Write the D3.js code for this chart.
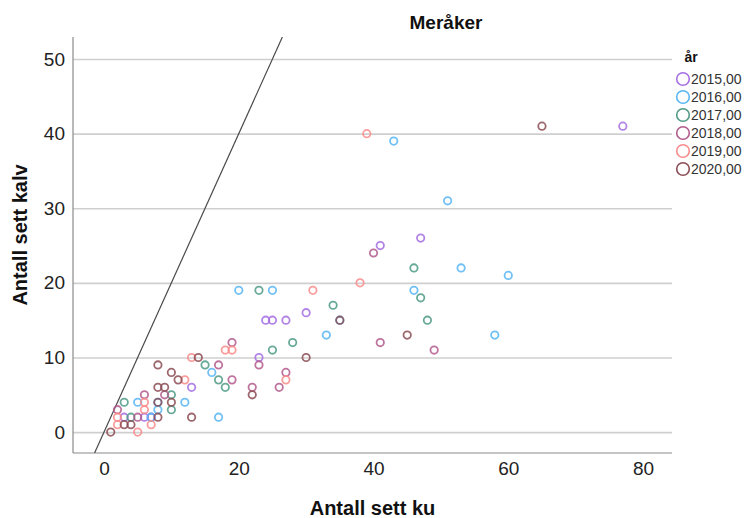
<!DOCTYPE html>
<html>
<head>
<meta charset="utf-8">
<script src="https://cdn.jsdelivr.net/npm/d3@7"></script>
<style>
  html, body { margin: 0; padding: 0; background: #fff; }
  svg { display: block; font-family: "Liberation Sans", Arial, sans-serif; }
</style>
</head>
<body>
<svg id="chart" width="744" height="518"></svg>
<script>
// Observations per year: [cows seen, calves seen]
const years = ["2015,00", "2016,00", "2017,00", "2018,00", "2019,00", "2020,00"];
const colors = ["#a46fe2", "#58b5f3", "#4f9a86", "#b25b8c", "#f98b8b", "#8c4c55"];

const y2015 = [[77,41],[47,26],[41,25],[30,16],[24,15],[25,15],[27,15],[23,10],[13,6],[3,2],[6,2],[7,2]];
const y2016 = [[43,39],[51,31],[53,22],[60,21],[46,19],[20,19],[25,19],[35,15],[33,13],[58,13],[16,8],[12,4],[5,4],[8,4],[8,3],[17,2],[7,2]];
const y2017 = [[46,22],[47,18],[34,17],[23,19],[48,15],[28,12],[25,11],[15,9],[17,7],[18,6],[10,5],[10,3],[3,4],[4,2]];
const y2018 = [[40,24],[19,12],[17,9],[23,9],[19,7],[22,6],[26,6],[27,8],[49,11],[41,12],[6,5],[9,5],[2,3],[5,2]];
const y2019 = [[39,40],[38,20],[31,19],[18,11],[19,11],[13,10],[12,7],[27,7],[6,4],[6,3],[2,2],[2,1],[7,1],[5,0]];
const y2020 = [[65,41],[30,10],[14,10],[22,5],[45,13],[8,9],[10,8],[11,7],[8,6],[9,6],[10,4],[8,2],[13,2],[3,1],[4,1],[1,0],[8,4],[35,15]];

const series = [y2015, y2016, y2017, y2018, y2019, y2020];

const xTicks = [0, 20, 40, 60, 80];
const yTicks = [0, 10, 20, 30, 40, 50];

const title = "Meråker";
const xTitle = "Antall sett ku";
const yTitle = "Antall sett kalv";
const legendTitle = "år";

// Reference line: calves = slope * cows
const refSlope = 2;

const svg = d3.select("#chart");
const plot = { left: 73, right: 672, top: 37, bottom: 453 };

const x = d3.scaleLinear().domain([-4.6, 84.3]).range([plot.left, plot.right]);
const y = d3.scaleLinear().domain([-2.8, 52.95]).range([plot.bottom, plot.top]);

// Horizontal grid lines
svg.append("g")
  .attr("transform", `translate(${plot.left},0)`)
  .call(d3.axisLeft(y).tickValues(yTicks).tickSize(-(plot.right - plot.left)).tickFormat(""))
  .call(g => g.select(".domain").remove())
  .call(g => g.selectAll(".tick line").attr("stroke", "#cfcfcf").attr("stroke-width", 1.6));

// Y axis
svg.append("g")
  .attr("transform", `translate(${plot.left},0)`)
  .call(d3.axisLeft(y).tickValues(yTicks).tickSize(0).tickPadding(8).tickFormat(d3.format("d")))
  .call(g => g.select(".domain").attr("stroke", "#8a8a8a").attr("stroke-width", 1.2)
      .attr("d", `M0,${plot.top}V${plot.bottom}`))
  .call(g => g.selectAll("text").attr("font-size", 19).attr("fill", "#222")
      .attr("font-family", "Liberation Sans, Arial, sans-serif"));

// X axis
svg.append("g")
  .attr("transform", `translate(0,${plot.bottom})`)
  .call(d3.axisBottom(x).tickValues(xTicks).tickSize(0).tickPadding(9).tickFormat(d3.format("d")))
  .call(g => g.select(".domain").attr("stroke", "#8a8a8a").attr("stroke-width", 1.2)
      .attr("d", `M${plot.left},0H${plot.right}`))
  .call(g => g.selectAll("text").attr("font-size", 19).attr("fill", "#222")
      .attr("font-family", "Liberation Sans, Arial, sans-serif"));

// Clip for the reference line
svg.append("clipPath").attr("id", "plot-clip")
  .append("rect")
  .attr("x", plot.left).attr("y", plot.top)
  .attr("width", plot.right - plot.left).attr("height", plot.bottom - plot.top);

const yd = y.domain();
svg.append("line")
  .attr("clip-path", "url(#plot-clip)")
  .attr("x1", x(yd[0] / refSlope)).attr("y1", y(yd[0]))
  .attr("x2", x(yd[1] / refSlope)).attr("y2", y(yd[1]))
  .attr("stroke", "#4a4a4a").attr("stroke-width", 1.2);

// Points
const pts = svg.append("g");
series.forEach((data, i) => {
  pts.selectAll(null)
    .data(data)
    .join("circle")
    .attr("cx", d => x(d[0]))
    .attr("cy", d => y(d[1]))
    .attr("r", 3.7)
    .attr("fill", "none")
    .attr("stroke", colors[i])
    .attr("stroke-width", 1.8)
    .attr("stroke-opacity", 0.85);
});

// Title
svg.append("text")
  .attr("x", 446).attr("y", 29)
  .attr("text-anchor", "middle")
  .attr("font-size", 19).attr("font-weight", "bold").attr("fill", "#111")
  .text(title);

// Axis titles
svg.append("text")
  .attr("x", (plot.left + plot.right) / 2).attr("y", 515)
  .attr("text-anchor", "middle")
  .attr("font-size", 20).attr("font-weight", "bold").attr("fill", "#111")
  .text(xTitle);

svg.append("text")
  .attr("transform", `translate(27,${(plot.top + plot.bottom) / 2 - 10}) rotate(-90)`)
  .attr("text-anchor", "middle")
  .attr("font-size", 20).attr("font-weight", "bold").attr("fill", "#111")
  .text(yTitle);

// Legend
const legend = svg.append("g").attr("transform", "translate(683,0)");
legend.append("text")
  .attr("x", 8).attr("y", 62)
  .attr("text-anchor", "middle")
  .attr("font-size", 14).attr("font-weight", "bold").attr("fill", "#111")
  .text(legendTitle);

const items = legend.selectAll("g.item")
  .data(years)
  .join("g")
  .attr("class", "item")
  .attr("transform", (d, i) => `translate(0,${79 + i * 18})`);
items.append("circle")
  .attr("r", 6.3).attr("fill", "none")
  .attr("stroke", (d, i) => colors[i]).attr("stroke-width", 1.6);
items.append("text")
  .attr("x", 8).attr("y", 5)
  .attr("font-size", 14).attr("fill", "#333")
  .text(d => d);
</script>
</body>
</html>
